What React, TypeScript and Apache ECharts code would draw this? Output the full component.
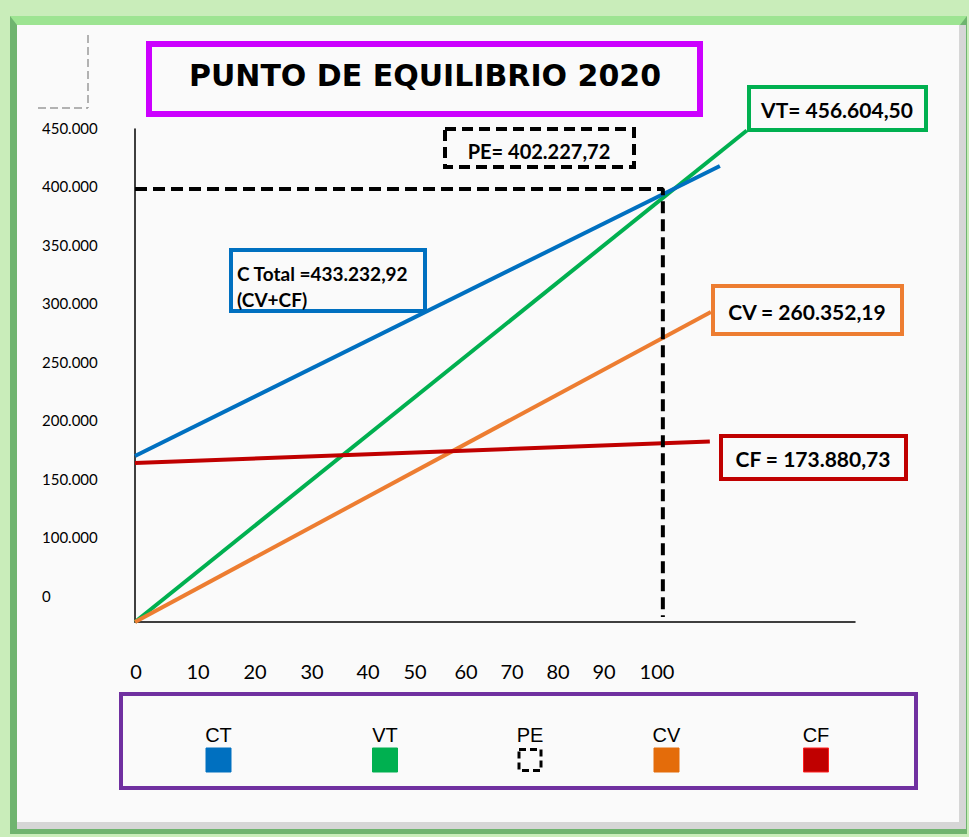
import React, { useEffect, useRef } from "react";
import * as echarts from "echarts";

// Tick labels
const yTickLabels = ["0", "100.000", "150.000", "200.000", "250.000", "300.000", "350.000", "400.000", "450.000"];
const xTickLabels = ["0", "10", "20", "30", "40", "50", "60", "70", "80", "90", "100"];

// Totals shown in the callouts
const VT_TOTAL = 456604.5;
const CT_TOTAL = 433232.92;
const CV_TOTAL = 260352.19;
const CF_TOTAL = 173880.73;
const PE_VALUE = 402227.72;
const PE_QTY = 100;

// Lines: [quantity, amount]
const ctLine = [[0, 154200], [110.8, 423600]];
const vtLine = [[0, 0], [115.9, VT_TOTAL]];
const cvLine = [[0, 0], [109.1, 288000]];
const cfLine = [[0, 147700], [108.9, 167800]];
const peLine = [[0, PE_VALUE], [PE_QTY, PE_VALUE], [PE_QTY, 4600]];

const legendNames = ["CT", "VT", "PE", "CV", "CF"];

// Layout constants
const X_LABEL_CENTERS = [136, 198, 255, 312, 368, 415, 466, 512, 558, 604, 657];
const LEGEND_CENTERS = [218.5, 385, 530, 666.5, 816];
const LEGEND_FILLS: (string | null)[] = ["#0070C0", "#00B050", null, "#E46C0A", "#C00000"];

const COLORS = {
  ct: "#0070C0",
  vt: "#00B050",
  cv: "#ED7D31",
  cf: "#C00000",
  pe: "#000000",
};

function fmtEs(n: number): string {
  const [i, d] = n.toFixed(2).split(".");
  return i.replace(/\B(?=(\d{3})+(?!\d))/g, ".") + "," + d;
}

function txt(text: string, x: number, y: number, font: string, align = "center", fill = "#000") {
  return {
    type: "text",
    z: 10,
    style: {
      text,
      x,
      y,
      font,
      fill,
      align,
      textAlign: align,
      verticalAlign: "middle",
      textVerticalAlign: "middle",
    },
  };
}

function box(x: number, y: number, w: number, h: number, stroke: string, lineWidth: number, lineDash?: number[]) {
  return {
    type: "rect",
    z: 9,
    shape: { x, y, width: w, height: h },
    style: { fill: "none", stroke, lineWidth, lineDash: lineDash || null },
  };
}

export default function App() {
  const ref = useRef<HTMLDivElement>(null);

  useEffect(() => {
    if (!ref.current) return;
    const chart = echarts.init(ref.current, null, { renderer: "svg" });

    const lineSeries = (name: string, data: number[][], color: string, z: number, dash?: number[]) => ({
      name,
      type: "line",
      xAxisIndex: 0,
      yAxisIndex: 0,
      data,
      symbol: "none",
      showSymbol: false,
      clip: false,
      z,
      lineStyle: { color, width: 4, type: dash || "solid", cap: "butt" },
      silent: true,
    });

    const boldFont = 'bold 21px Lato';

    const graphic: any[] = [
      // frame
      { type: "rect", z: 0, shape: { x: 0, y: 0, width: 969, height: 837 }, style: { fill: "#C9EDBA" } },
      { type: "rect", z: 0, shape: { x: 10, y: 16, width: 957, height: 818 }, style: { fill: "#6FB46F" } },
      { type: "polygon", z: 0, shape: { points: [[10, 16], [967, 16], [960, 25], [17, 25]] }, style: { fill: "#9DE492" } },
      { type: "rect", z: 0, shape: { x: 17, y: 25, width: 949, height: 804 }, style: { fill: "#D6D6D6" } },
      { type: "rect", z: 0, shape: { x: 17, y: 25, width: 942, height: 797 }, style: { fill: "#FAFAFA" } },

      // stray dashed guide at top-left
      { type: "line", z: 1, shape: { x1: 88, y1: 35, x2: 88, y2: 108 }, style: { stroke: "#9A9A9A", lineWidth: 1.5, lineDash: [8, 4] } },
      { type: "line", z: 1, shape: { x1: 38, y1: 108, x2: 88, y2: 108 }, style: { stroke: "#9A9A9A", lineWidth: 1.5, lineDash: [8, 4] } },

      // title
      box(149, 44, 551, 70, "#CC00FF", 6),
      txt("PUNTO DE EQUILIBRIO 2020", 425, 75, 'bold 30px "DejaVu Sans"'),

      // callouts
      box(445, 129, 189, 38, "#000", 4, [11, 6]),
      txt("PE= " + fmtEs(PE_VALUE), 539, 151, 'bold 20px Lato'),

      box(749, 87, 177, 43, COLORS.vt, 4),
      txt("VT= " + fmtEs(VT_TOTAL), 837, 109, boldFont),

      box(713, 286, 189, 48, COLORS.cv, 4),
      txt("CV = " + fmtEs(CV_TOTAL), 807, 311, boldFont),

      box(721, 436, 185, 43, COLORS.cf, 4),
      txt("CF = " + fmtEs(CF_TOTAL), 813, 458, boldFont),

      box(231, 250, 194, 61, COLORS.ct, 4),
      txt("C Total =" + fmtEs(CT_TOTAL), 237, 273, 'bold 19px Lato', "left"),
      txt("(CV+CF)", 237, 299, 'bold 19px Lato', "left"),

      // legend frame
      box(121, 694, 795, 94, "#7030A0", 4),
    ];

    // x tick labels
    xTickLabels.forEach((t, i) => {
      graphic.push(txt(t, X_LABEL_CENTERS[i], 671, '20px Lato'));
    });

    // legend entries
    legendNames.forEach((name, i) => {
      const cx = LEGEND_CENTERS[i];
      graphic.push(txt(name, cx, 735, '20px "Liberation Sans"'));
      const fill = LEGEND_FILLS[i];
      if (fill) {
        graphic.push({
          type: "rect",
          z: 10,
          shape: { x: cx - 12.5, y: 748, width: 25, height: 24 },
          style: { fill, stroke: name === "CF" ? "#FF2020" : fill, lineWidth: 1 },
        });
      } else {
        graphic.push({
          type: "rect",
          z: 10,
          shape: { x: cx - 11, y: 749.5, width: 22, height: 21 },
          style: { fill: "none", stroke: "#000", lineWidth: 3, lineDash: [7, 4] },
        });
      }
    });

    chart.setOption({
      animation: false,
      backgroundColor: "transparent",
      graphic,
      grid: [
        { left: 135, top: 129, width: 720, height: 493 },
        { left: 100, top: 127.5, width: 10, height: 468.5 },
      ],
      xAxis: [
        {
          gridIndex: 0,
          type: "value",
          min: 0,
          max: 136.4,
          axisLine: { show: true, onZero: false, lineStyle: { color: "#000", width: 1.5 } },
          axisTick: { show: false },
          axisLabel: { show: false },
          splitLine: { show: false },
        },
        { gridIndex: 1, type: "value", show: false },
      ],
      yAxis: [
        {
          gridIndex: 0,
          type: "value",
          min: 0,
          max: 458000,
          axisLine: { show: true, lineStyle: { color: "#000", width: 1.5 } },
          axisTick: { show: false },
          axisLabel: { show: false },
          splitLine: { show: false },
        },
        {
          gridIndex: 1,
          type: "category",
          data: yTickLabels,
          boundaryGap: false,
          axisLine: { show: false },
          axisTick: { show: false },
          splitLine: { show: false },
          axisLabel: {
            interval: 0,
            align: "left",
            margin: 58,
            fontSize: 15,
            color: "#000",
            fontFamily: "Lato",
          },
        },
      ],
      series: [
        lineSeries("VT", vtLine, COLORS.vt, 2),
        lineSeries("CV", cvLine, COLORS.cv, 3),
        lineSeries("CF", cfLine, COLORS.cf, 4),
        lineSeries("CT", ctLine, COLORS.ct, 5),
        lineSeries("PE", peLine, COLORS.pe, 6, [12, 6]),
      ],
    });

    return () => chart.dispose();
  }, []);

  return (
    <div style={{ position: "absolute", left: 0, top: 0, width: 969, height: 837 }}>
      <div ref={ref} style={{ width: 969, height: 837 }} />
    </div>
  );
}
